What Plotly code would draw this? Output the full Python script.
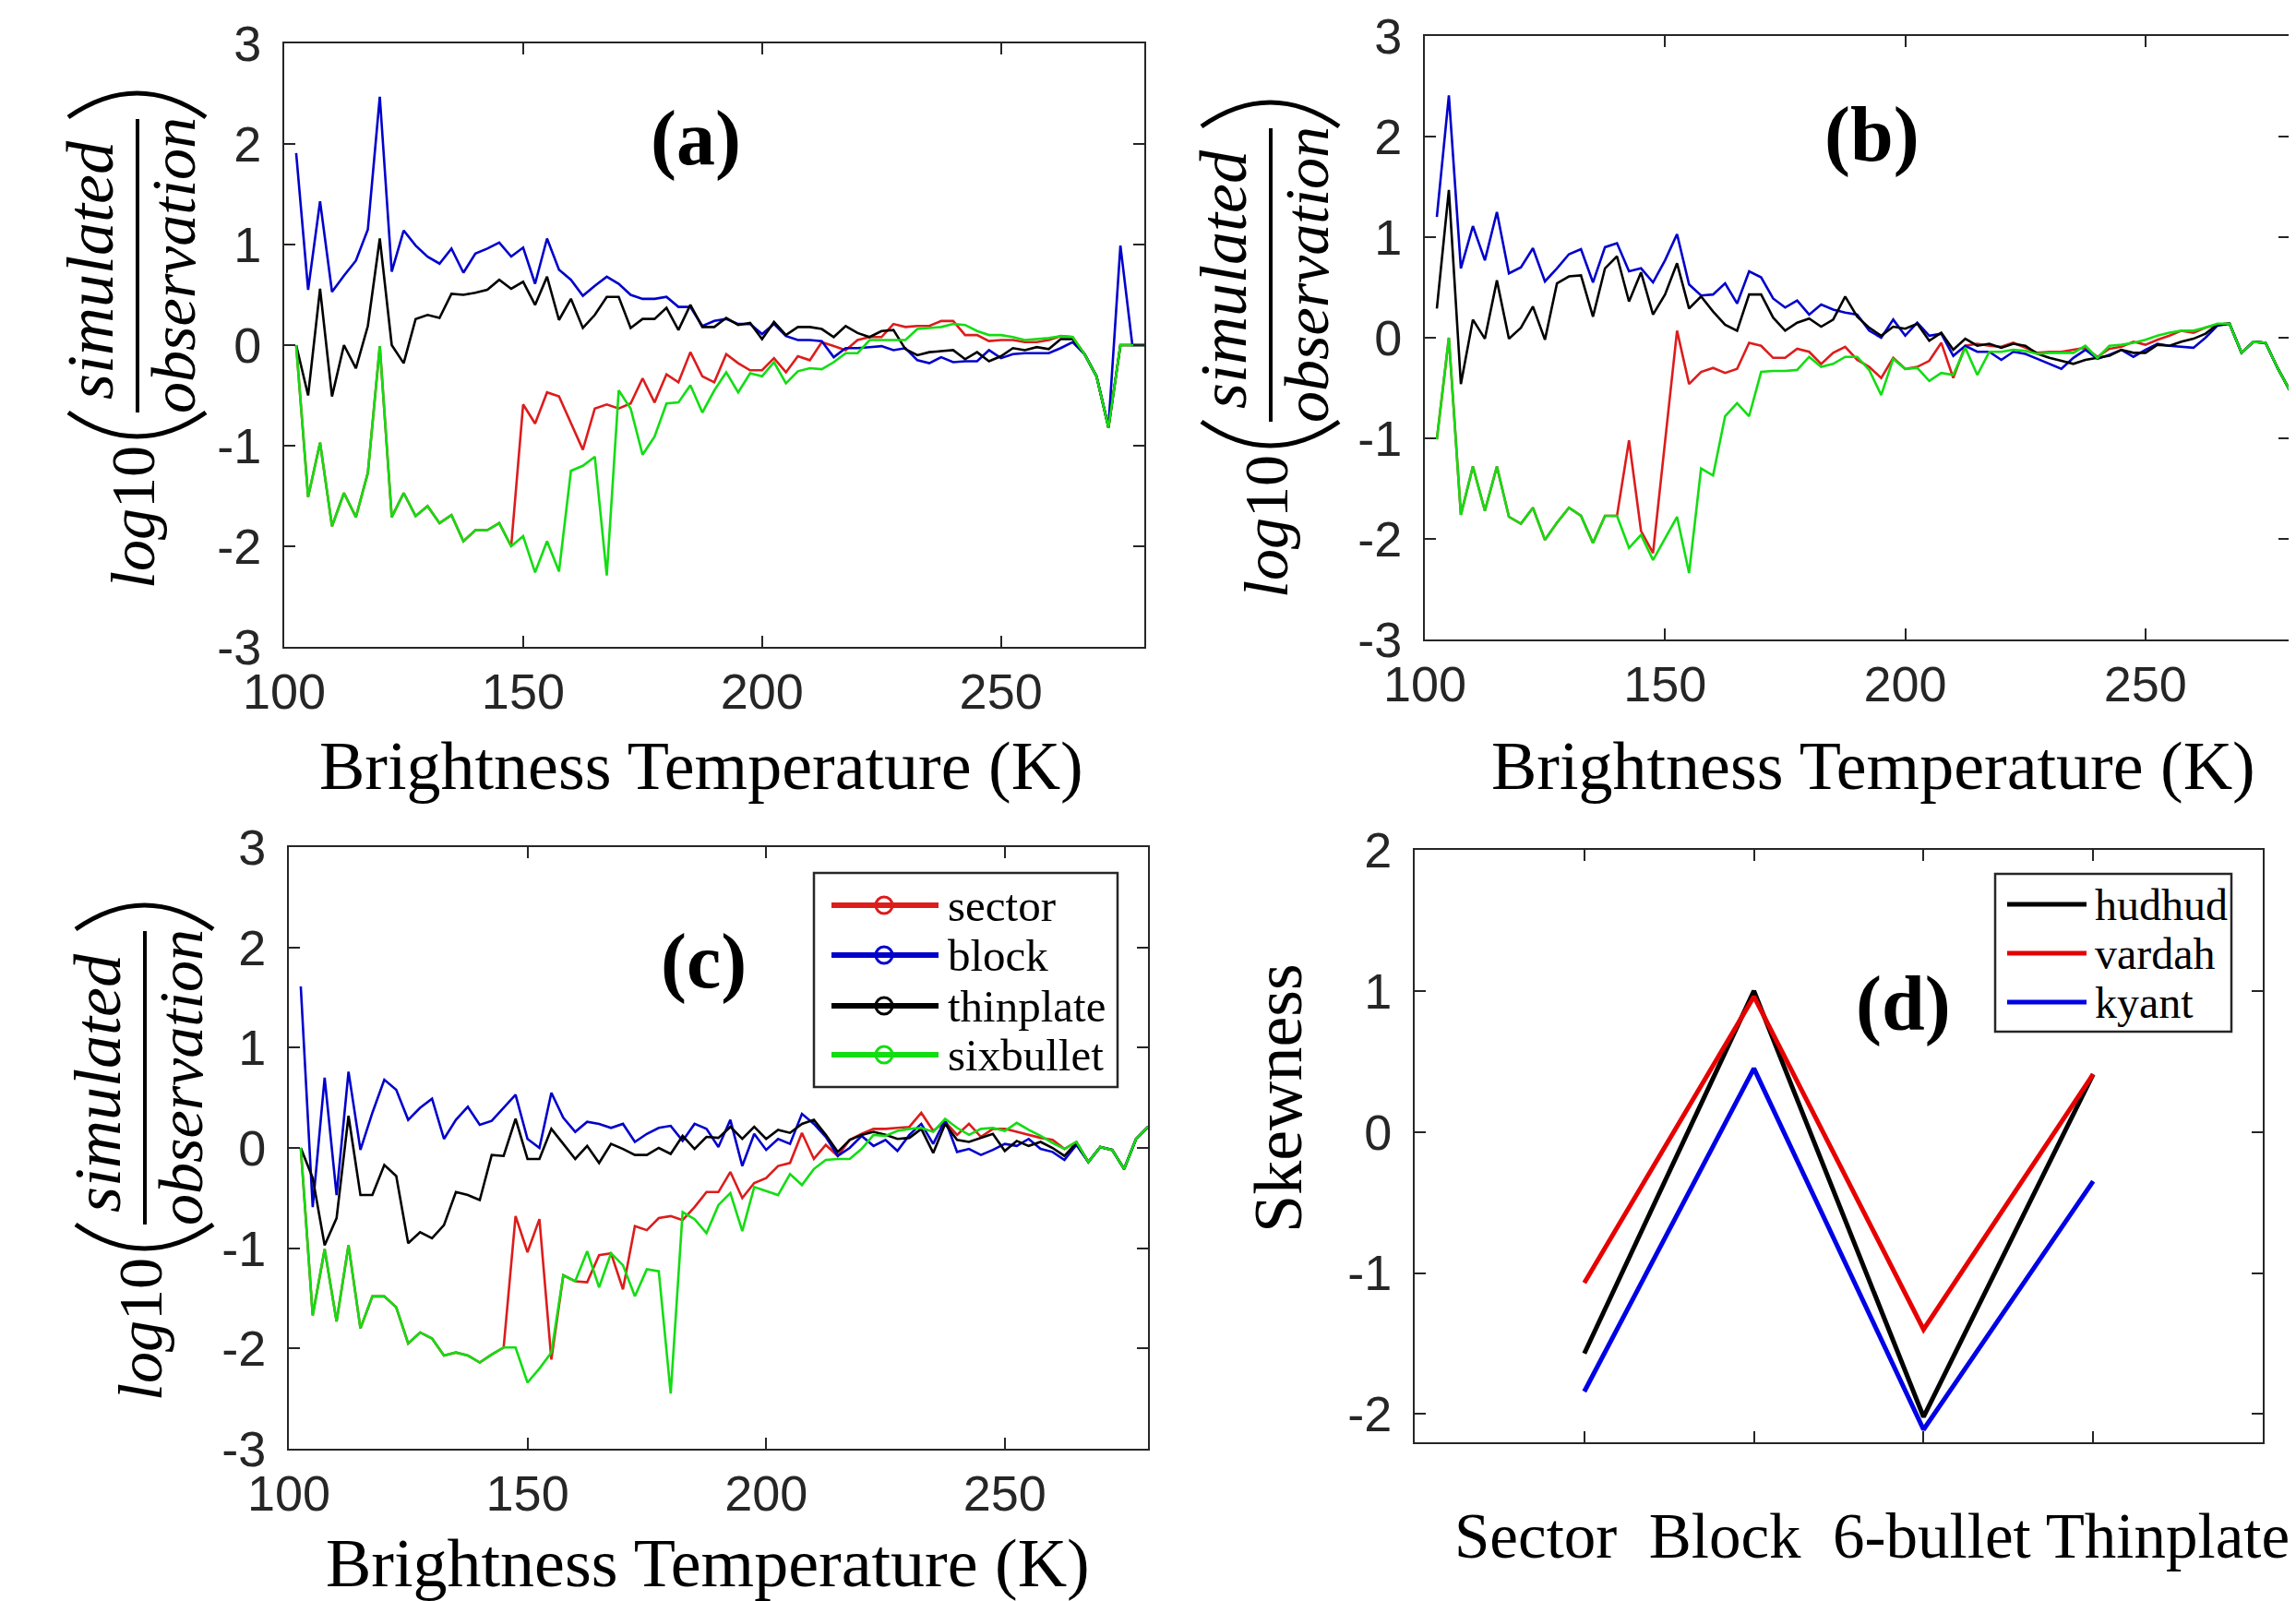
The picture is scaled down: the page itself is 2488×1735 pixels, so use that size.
import plotly.graph_objects as go

# ---------------- data ----------------
tb = [102.5, 105.0, 107.5, 110.0, 112.5, 115.0, 117.5, 120.0, 122.5, 125.0,
      127.5, 130.0, 132.5, 135.0, 137.5, 140.0, 142.5, 145.0, 147.5, 150.0,
      152.5, 155.0, 157.5, 160.0, 162.5, 165.0, 167.5, 170.0, 172.5, 175.0,
      177.5, 180.0, 182.5, 185.0, 187.5, 190.0, 192.5, 195.0, 197.5, 200.0,
      202.5, 205.0, 207.5, 210.0, 212.5, 215.0, 217.5, 220.0, 222.5, 225.0,
      227.5, 230.0, 232.5, 235.0, 237.5, 240.0, 242.5, 245.0, 247.5, 250.0,
      252.5, 255.0, 257.5, 260.0, 262.5, 265.0, 267.5, 270.0, 272.5, 275.0,
      277.5, 280.0]

# panel (a)
a_sector = [0.0, -1.51, -0.97, -1.80, -1.47, -1.71, -1.27, -0.01, -1.71, -1.47,
            -1.70, -1.60, -1.77, -1.69, -1.95, -1.84, -1.84, -1.77, -2.00, -0.59,
            -0.78, -0.47, -0.51, -0.77, -1.04, -0.63, -0.59, -0.63, -0.58, -0.33,
            -0.57, -0.29, -0.37, -0.07, -0.31, -0.37, -0.09, -0.18, -0.25, -0.25,
            -0.13, -0.27, -0.11, -0.15, 0.03, -0.01, -0.05, 0.05, 0.08, 0.08,
            0.21, 0.18, 0.19, 0.19, 0.24, 0.24, 0.10, 0.10, 0.04, 0.05,
            0.05, 0.03, 0.03, 0.05, 0.09, 0.08, -0.09, -0.31, -0.82, 0.0,
            0.0, 0.0]
a_block = [1.91, 0.55, 1.43, 0.53, 0.69, 0.84, 1.15, 2.47, 0.73, 1.14,
           0.99, 0.88, 0.81, 0.96, 0.72, 0.91, 0.96, 1.02, 0.88, 0.97,
           0.61, 1.06, 0.75, 0.65, 0.49, 0.59, 0.68, 0.61, 0.50, 0.46,
           0.46, 0.48, 0.38, 0.38, 0.19, 0.24, 0.26, 0.21, 0.21, 0.11,
           0.21, 0.09, 0.05, 0.05, 0.04, -0.12, -0.03, -0.03, -0.02, -0.01,
           -0.05, -0.03, -0.15, -0.18, -0.12, -0.17, -0.16, -0.16, -0.05, -0.13,
           -0.09, -0.08, -0.08, -0.08, -0.03, 0.03, -0.09, -0.31, -0.81, 0.99,
           0.0, 0.0]
a_thinplate = [0.0, -0.50, 0.56, -0.51, 0.0, -0.23, 0.19, 1.06, 0.0, -0.18,
               0.26, 0.30, 0.27, 0.51, 0.50, 0.52, 0.55, 0.65, 0.56, 0.63,
               0.40, 0.68, 0.25, 0.46, 0.17, 0.30, 0.48, 0.48, 0.17, 0.26,
               0.26, 0.37, 0.15, 0.40, 0.18, 0.18, 0.27, 0.20, 0.22, 0.06,
               0.23, 0.10, 0.18, 0.18, 0.16, 0.08, 0.19, 0.12, 0.08, 0.14,
               0.15, -0.04, -0.10, -0.07, -0.06, -0.05, -0.14, -0.07, -0.16, -0.11,
               -0.03, -0.05, -0.02, -0.04, 0.06, 0.06, -0.09, -0.31, -0.82, 0.0,
               0.0, 0.0]
a_sixbullet = [0.0, -1.51, -0.97, -1.80, -1.47, -1.71, -1.27, -0.01, -1.71, -1.47,
               -1.70, -1.60, -1.77, -1.69, -1.95, -1.84, -1.84, -1.77, -2.00, -1.90,
               -2.26, -1.95, -2.25, -1.25, -1.20, -1.11, -2.29, -0.45, -0.63, -1.09,
               -0.91, -0.58, -0.57, -0.40, -0.67, -0.45, -0.27, -0.47, -0.28, -0.31,
               -0.17, -0.38, -0.26, -0.23, -0.24, -0.17, -0.08, -0.08, 0.05, 0.05,
               0.05, 0.05, 0.16, 0.17, 0.18, 0.21, 0.20, 0.14, 0.10, 0.10,
               0.08, 0.05, 0.06, 0.07, 0.09, 0.08, -0.09, -0.31, -0.82, 0.0,
               0.0, 0.0]

# panel (b)
b_sector = [-1.01, 0.0, -1.76, -1.28, -1.72, -1.28, -1.78, -1.85, -1.69, -2.01,
            -1.84, -1.69, -1.77, -2.04, -1.77, -1.77, -1.02, -1.92, -2.14, -1.05,
            0.07, -0.46, -0.34, -0.30, -0.35, -0.31, -0.05, -0.08, -0.20, -0.20,
            -0.11, -0.14, -0.26, -0.15, -0.09, -0.22, -0.29, -0.40, -0.20, -0.31,
            -0.29, -0.23, -0.05, -0.40, -0.08, -0.06, -0.08, -0.09, -0.05, -0.10,
            -0.15, -0.14, -0.14, -0.12, -0.10, -0.19, -0.11, -0.09, -0.04, -0.07,
            -0.02, 0.02, 0.07, 0.05, 0.10, 0.13, 0.14, -0.15, -0.04, -0.05,
            -0.30, -0.52]
b_block = [1.20, 2.41, 0.69, 1.11, 0.77, 1.25, 0.64, 0.70, 0.89, 0.56,
           0.69, 0.83, 0.88, 0.55, 0.90, 0.94, 0.66, 0.69, 0.55, 0.77,
           1.03, 0.53, 0.42, 0.43, 0.54, 0.34, 0.66, 0.60, 0.39, 0.30,
           0.37, 0.23, 0.33, 0.28, 0.25, 0.23, 0.07, 0.0, 0.18, 0.02,
           0.15, 0.02, 0.04, -0.18, -0.08, -0.14, -0.14, -0.22, -0.14, -0.16,
           -0.21, -0.26, -0.31, -0.20, -0.12, -0.21, -0.17, -0.12, -0.19, -0.12,
           -0.06, -0.08, -0.09, -0.10, 0.0, 0.12, 0.14, -0.15, -0.04, -0.05,
           -0.30, -0.52]
b_thinplate = [0.29, 1.47, -0.46, 0.18, -0.01, 0.57, -0.01, 0.10, 0.31, -0.02,
               0.54, 0.61, 0.62, 0.21, 0.69, 0.81, 0.36, 0.65, 0.23, 0.43,
               0.74, 0.29, 0.41, 0.26, 0.13, 0.07, 0.43, 0.43, 0.20, 0.07,
               0.15, 0.19, 0.11, 0.18, 0.41, 0.21, 0.10, 0.02, 0.11, 0.09,
               0.14, -0.03, 0.05, -0.12, -0.01, -0.08, -0.06, -0.10, -0.06, -0.08,
               -0.16, -0.20, -0.23, -0.26, -0.22, -0.20, -0.18, -0.12, -0.15, -0.15,
               -0.07, -0.08, -0.04, -0.01, 0.04, 0.13, 0.14, -0.15, -0.04, -0.05,
               -0.30, -0.52]
b_sixbullet = [-1.01, 0.0, -1.76, -1.28, -1.72, -1.28, -1.78, -1.85, -1.69, -2.01,
               -1.84, -1.69, -1.77, -2.04, -1.77, -1.77, -2.09, -1.96, -2.21, -2.00,
               -1.78, -2.34, -1.30, -1.37, -0.78, -0.65, -0.78, -0.34, -0.33, -0.33,
               -0.32, -0.19, -0.29, -0.26, -0.19, -0.19, -0.32, -0.57, -0.21, -0.31,
               -0.30, -0.43, -0.35, -0.37, -0.10, -0.37, -0.14, -0.14, -0.12, -0.13,
               -0.16, -0.15, -0.15, -0.15, -0.08, -0.20, -0.08, -0.07, -0.05, -0.02,
               0.02, 0.05, 0.07, 0.07, 0.10, 0.14, 0.14, -0.15, -0.04, -0.05,
               -0.30, -0.52]

# panel (c)
c_sector = [0.0, -1.67, -1.01, -1.73, -0.97, -1.80, -1.48, -1.48, -1.59, -1.95,
            -1.84, -1.90, -2.07, -2.04, -2.07, -2.14, -2.06, -1.99, -0.68, -1.04,
            -0.71, -2.11, -1.27, -1.33, -1.34, -1.07, -1.05, -1.41, -0.78, -0.82,
            -0.70, -0.68, -0.72, -0.59, -0.44, -0.44, -0.24, -0.50, -0.35, -0.30,
            -0.18, -0.15, 0.15, -0.11, 0.03, -0.08, 0.08, 0.14, 0.19, 0.19,
            0.20, 0.21, 0.35, 0.17, 0.26, 0.13, 0.24, 0.11, 0.19, 0.19,
            0.16, 0.13, 0.10, 0.08, -0.01, 0.06, -0.14, 0.01, -0.02, -0.21,
            0.09, 0.21]
c_block = [1.61, -0.59, 0.70, -0.47, 0.76, -0.02, 0.35, 0.68, 0.58, 0.28,
           0.40, 0.49, 0.09, 0.28, 0.41, 0.23, 0.27, 0.40, 0.53, 0.09,
           0.0, 0.55, 0.30, 0.16, 0.26, 0.24, 0.20, 0.24, 0.06, 0.14,
           0.20, 0.22, 0.07, 0.24, 0.19, 0.01, 0.28, -0.18, 0.14, -0.02,
           0.09, 0.04, 0.34, 0.24, 0.11, -0.08, 0.0, 0.12, 0.02, 0.08,
           -0.03, 0.13, 0.24, 0.04, 0.28, -0.04, -0.01, -0.07, -0.02, 0.04,
           0.02, 0.09, -0.01, -0.04, -0.12, 0.03, -0.14, 0.01, -0.02, -0.21,
           0.09, 0.21]
c_thinplate = [0.0, -0.30, -0.97, -0.70, 0.32, -0.47, -0.47, -0.17, -0.28, -0.95,
               -0.84, -0.90, -0.77, -0.44, -0.47, -0.52, -0.07, -0.08, 0.29, -0.11,
               -0.11, 0.19, 0.04, -0.11, 0.02, -0.15, 0.04, -0.01, -0.07, -0.07,
               0.0, -0.06, 0.12, -0.01, 0.11, 0.10, 0.21, 0.09, 0.21, 0.09,
               0.18, 0.15, 0.24, 0.28, 0.13, -0.04, 0.08, 0.13, 0.16, 0.13,
               0.09, 0.10, 0.19, -0.05, 0.24, 0.08, 0.06, 0.10, 0.14, -0.03,
               0.07, 0.02, 0.06, 0.0, -0.08, 0.05, -0.14, 0.01, -0.02, -0.21,
               0.09, 0.21]
c_sixbullet = [0.0, -1.67, -1.01, -1.73, -0.97, -1.80, -1.48, -1.48, -1.59, -1.95,
               -1.84, -1.90, -2.07, -2.04, -2.07, -2.14, -2.06, -1.99, -1.99, -2.34,
               -2.20, -2.04, -1.27, -1.33, -1.03, -1.39, -1.05, -1.17, -1.48, -1.21,
               -1.23, -2.45, -0.64, -0.71, -0.85, -0.57, -0.45, -0.83, -0.39, -0.43,
               -0.47, -0.26, -0.37, -0.21, -0.12, -0.11, -0.11, -0.01, 0.13, 0.12,
               0.17, 0.19, 0.20, 0.16, 0.29, 0.20, 0.13, 0.19, 0.20, 0.17,
               0.25, 0.18, 0.12, 0.05, -0.01, 0.06, -0.14, 0.01, -0.02, -0.21,
               0.09, 0.21]

# panel (d)
habits = ["Sector", "Block", "6-bullet", "Thinplate"]
d_hudhud = [-1.57, 1.00, -2.02, 0.41]
d_vardah = [-1.07, 0.96, -1.40, 0.41]
d_kyant = [-1.84, 0.45, -2.11, -0.35]

series_names = ["sector", "block", "thinplate", "sixbullet"]
cyclone_names = ["hudhud", "vardah", "kyant"]
x_ticks = [100, 150, 200, 250]
x_ticktext = ["100", "150", "200", "250"]
y_ticks = [-3, -2, -1, 0, 1, 2, 3]
y_ticktext = ["-3", "-2", "-1", "0", "1", "2", "3"]
d_yticks = [-2, -1, 0, 1, 2]
d_yticktext = ["-2", "-1", "0", "1", "2"]

# ---------------- styling ----------------
PAGE_W, PAGE_H = 2488, 1735
OFF = 8                      # default page margin of the html body
W, H = PAGE_W - OFF, PAGE_H - OFF
RED, BLUE, BLACK, GREEN = "#DD1C1C", "#0000CC", "#000000", "#12DD12"
D_RED, D_BLUE = "#E60000", "#0000E6"
AX = "#262626"
SANS = "Liberation Sans, Arial, sans-serif"
SERIF = "Liberation Serif, Times New Roman, serif"


def X(px):
    return (px - OFF) / W


def Y(py):
    return 1 - (py - OFF) / H


fig = go.Figure()

panels = [
    ("x", "y", [a_sector, a_block, a_thinplate, a_sixbullet]),
    ("x2", "y2", [b_sector, b_block, b_thinplate, b_sixbullet]),
    ("x3", "y3", [c_sector, c_block, c_thinplate, c_sixbullet]),
]
for xa, ya, sers in panels:
    for name, vals, col in zip(series_names, sers, [RED, BLUE, BLACK, GREEN]):
        fig.add_trace(go.Scatter(x=tb, y=vals, mode="lines", name=name,
                                 line=dict(color=col, width=2.6),
                                 xaxis=xa, yaxis=ya, showlegend=False))

for name, vals, col in zip(cyclone_names, [d_hudhud, d_vardah, d_kyant],
                           [BLACK, D_RED, D_BLUE]):
    fig.add_trace(go.Scatter(x=habits, y=vals, mode="lines", name=name,
                             line=dict(color=col, width=5),
                             xaxis="x4", yaxis="y4", showlegend=False))

TICKFONT = dict(family=SANS, size=54, color=AX)


def axstyle(**kw):
    d = dict(showline=True, linecolor=AX, linewidth=2, mirror="ticks",
             ticks="inside", ticklen=12, tickwidth=2, tickcolor=AX,
             showgrid=False, zeroline=False, tickfont=TICKFONT,
             fixedrange=True, automargin=False)
    d.update(kw)
    return d


dom = {
    "a": ((308, 1240), (47, 701)),
    "b": ((1544, 2481), (39, 693)),
    "c": ((313, 1244), (918, 1570)),
    "d": ((1533, 2452), (921, 1563)),
}


def xd(k):
    return [X(dom[k][0][0]), X(dom[k][0][1])]


def yd(k):
    return [Y(dom[k][1][1]), Y(dom[k][1][0])]


layout_axes = {}
for i, k in enumerate(["a", "b", "c"]):
    sfx = "" if i == 0 else str(i + 1)
    layout_axes["xaxis" + sfx] = axstyle(domain=xd(k), range=[100, 280],
                                         tickvals=x_ticks, ticktext=x_ticktext,
                                         anchor="y" + sfx, ticklabelstandoff=0)
    layout_axes["yaxis" + sfx] = axstyle(domain=yd(k), range=[-3, 3],
                                         tickvals=y_ticks, ticktext=y_ticktext,
                                         anchor="x" + sfx, ticklabelstandoff=12)
layout_axes["xaxis4"] = axstyle(domain=xd("d"), type="category",
                                categoryorder="array", categoryarray=habits,
                                range=[-1, 4], showticklabels=False,
                                anchor="y4")
layout_axes["yaxis4"] = axstyle(domain=yd("d"), range=[-2.2, 2],
                                tickvals=d_yticks, ticktext=d_yticktext,
                                anchor="x4", ticklabelstandoff=12)

annotations = []
shapes = []


def txt(text, px, py, size, family=SERIF, angle=0, xanchor="center",
        yanchor="middle", color="black"):
    annotations.append(dict(text=text, x=X(px), y=Y(py), xref="paper",
                            yref="paper", showarrow=False, xanchor=xanchor,
                            yanchor=yanchor, textangle=angle,
                            font=dict(family=family, size=size, color=color)))


# panel letters
txt("<b>(a)</b>", 754, 150, 84)
txt("<b>(b)</b>", 2028, 146, 84)
txt("<b>(c)</b>", 762, 1042, 84)
txt("<b>(d)</b>", 2062, 1088, 84)

# x-axis titles
txt("Brightness Temperature (K)", 760, 830, 74)
txt("Brightness Temperature (K)", 2030, 830, 74)
txt("Brightness Temperature (K)", 767, 1694, 74)
txt("Sector\u00a0\u00a0Block\u00a0\u00a06-bullet Thinplate", 2483, 1665, 69,
    xanchor="right")
txt("Skewness", 1385, 1190, 74, angle=-90)


# y-axis titles: log10( simulated / observation )
def ytitle(dx, dy):
    txt("<i>log</i>10", 144 + dx, 561 + dy, 68, angle=-90)
    txt("<i>simulated</i>", 98 + dx, 293 + dy, 72, angle=-90)
    txt("<i>observation</i>", 188 + dx, 288 + dy, 68, angle=-90)
    shapes.append(dict(type="line", xref="paper", yref="paper",
                       x0=X(149 + dx), x1=X(149 + dx),
                       y0=Y(129 + dy), y1=Y(447 + dy),
                       line=dict(color="black", width=4)))
    # top bracket (closing parenthesis, rotated)
    x0, x1, xc = 74 + dx, 223 + dx, 148.5 + dx
    shapes.append(dict(type="path", xref="paper", yref="paper",
                       path=f"M {X(x0)},{Y(127 + dy)} Q {X(xc)},{Y(75 + dy)} {X(x1)},{Y(127 + dy)}",
                       line=dict(color="black", width=5)))
    # bottom bracket (opening parenthesis, rotated)
    shapes.append(dict(type="path", xref="paper", yref="paper",
                       path=f"M {X(x0)},{Y(447 + dy)} Q {X(xc)},{Y(499 + dy)} {X(x1)},{Y(447 + dy)}",
                       line=dict(color="black", width=5)))


ytitle(0, 0)
ytitle(1228, 10)
ytitle(8, 880)

# legend (c)
shapes.append(dict(type="rect", xref="paper", yref="paper",
                   x0=X(882), x1=X(1211), y0=Y(1178), y1=Y(946),
                   line=dict(color=AX, width=2.5), fillcolor="white",
                   layer="above"))
for name, col, ry in zip(series_names, [RED, BLUE, BLACK, GREEN],
                         [981, 1035, 1090, 1143]):
    shapes.append(dict(type="line", xref="paper", yref="paper",
                       x0=X(901), x1=X(1017), y0=Y(ry), y1=Y(ry),
                       line=dict(color=col, width=6), layer="above"))
    shapes.append(dict(type="circle", xref="paper", yref="paper",
                       x0=X(949), x1=X(967), y0=Y(ry + 9), y1=Y(ry - 9),
                       line=dict(color=col, width=3), layer="above"))
    txt(name, 1025, ry, 49, xanchor="left")

# legend (d)
shapes.append(dict(type="rect", xref="paper", yref="paper",
                   x0=X(2162), x1=X(2418), y0=Y(1118), y1=Y(947),
                   line=dict(color=AX, width=2.5), fillcolor="white",
                   layer="above"))
for name, col, ry in zip(cyclone_names, [BLACK, D_RED, D_BLUE],
                         [980, 1033, 1086]):
    shapes.append(dict(type="line", xref="paper", yref="paper",
                       x0=X(2175), x1=X(2261), y0=Y(ry), y1=Y(ry),
                       line=dict(color=col, width=5), layer="above"))
    txt(name, 2268, ry, 48, xanchor="left")

fig.update_layout(
    width=W, height=H, margin=dict(l=0, r=0, t=0, b=0, pad=0),
    paper_bgcolor="white", plot_bgcolor="white",
    showlegend=False, annotations=annotations, shapes=shapes,
    **layout_axes,
)

fig.write_html("out.html")
